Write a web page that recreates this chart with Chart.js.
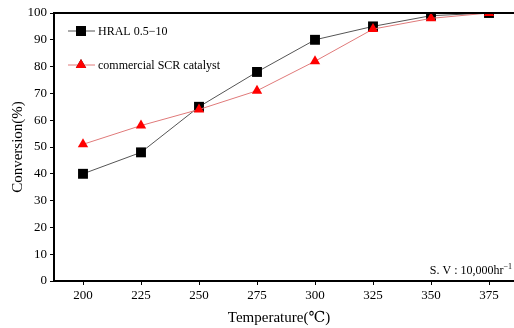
<!DOCTYPE html>
<html>
<head>
<meta charset="utf-8">
<script src="https://cdn.jsdelivr.net/npm/chart.js@4/dist/chart.umd.min.js"></script>
<style>
  html, body { margin: 0; padding: 0; overflow: hidden; background: #fff; }
  #wrap { width: 525px; height: 328px; }
</style>
</head>
<body>
<div id="wrap"><canvas id="convChart" width="525" height="328"></canvas></div>
<script>
// data
const temperatures = ['200', '225', '250', '275', '300', '325', '350', '375'];
const hralValues = [40, 48, 65, 78, 90, 95, 99, 100];
const commercialValues = [51, 58, 64, 71, 82, 94, 98, 100];
const yTicks = [0, 10, 20, 30, 40, 50, 60, 70, 80, 90, 100];

const SERIF = '"Liberation Serif", "DejaVu Serif", serif';

// legend, frame top line, axis titles and the S.V note
const extras = {
    id: 'extras',
    afterDraw(chart) {
        const ctx = chart.ctx;
        const area = chart.chartArea;
        ctx.save();

        // top frame line
        ctx.strokeStyle = '#000';
        ctx.lineWidth = 2;
        ctx.beginPath();
        ctx.moveTo(area.left, area.top);
        ctx.lineTo(area.right + 4, area.top);
        ctx.stroke();

        // legend
        const rows = [
            { label: 'HRAL 0.5\u221210', y: 31, line: '#555', ds: 1 },
            { label: 'commercial SCR catalyst', y: 65, line: '#e07a7a', ds: 0 }
        ];
        rows.forEach(r => {
            ctx.strokeStyle = r.line;
            ctx.lineWidth = 1;
            ctx.beginPath();
            ctx.moveTo(68, r.y);
            ctx.lineTo(95, r.y);
            ctx.stroke();
            const d = chart.data.datasets[r.ds];
            Chart.helpers.drawPoint(ctx, {
                pointStyle: d.pointStyle,
                radius: d.pointRadius,
                rotation: 0,
                borderWidth: 0
            }, 81, r.y);
            ctx.fillStyle = d.pointBackgroundColor;
            ctx.fill();
            ctx.fillStyle = '#000';
            ctx.font = '12px ' + SERIF;
            ctx.textAlign = 'left';
            ctx.textBaseline = 'middle';
            ctx.fillText(r.label, 98, r.y + 1);
        });

        // space velocity note
        ctx.fillStyle = '#000';
        ctx.textBaseline = 'alphabetic';
        ctx.textAlign = 'right';
        ctx.font = '8px ' + SERIF;
        ctx.fillText('\u22121', 512, 269);
        const supW = ctx.measureText('\u22121').width;
        ctx.font = '12px ' + SERIF;
        ctx.fillText('S. V : 10,000hr', 512 - supW, 274);

        // axis titles
        ctx.font = '15px ' + SERIF;
        ctx.textAlign = 'center';
        ctx.textBaseline = 'middle';
        ctx.fillText('Temperature(\u2103)', 279, 318);
        ctx.translate(18, (area.top + area.bottom) / 2);
        ctx.rotate(-Math.PI / 2);
        ctx.fillText('Conversion(%)', 0, 0);

        ctx.restore();
    }
};

const ctx = document.getElementById('convChart').getContext('2d');
new Chart(ctx, {
    type: 'line',
    data: {
        labels: temperatures,
        datasets: [{
            label: 'commercial SCR catalyst',
            data: commercialValues,
            borderColor: '#e07a7a',
            borderWidth: 1,
            pointStyle: 'triangle',
            pointRadius: 6,
            pointBorderWidth: 0,
            pointBackgroundColor: '#ff0000',
            pointBorderColor: '#ff0000',
            order: 0
        }, {
            label: 'HRAL 0.5-10',
            data: hralValues,
            borderColor: '#555',
            borderWidth: 1,
            pointStyle: 'rect',
            pointRadius: 7,
            pointBorderWidth: 0,
            pointBackgroundColor: '#000',
            pointBorderColor: '#000',
            order: 1
        }]
    },
    options: {
        responsive: false,
        animation: false,
        layout: { padding: { top: 13, right: 4, left: 0, bottom: 0 } },
        plugins: {
            legend: { display: false },
            tooltip: { enabled: false }
        },
        scales: {
            x: {
                offset: true,
                grid: {
                    offset: false,
                    drawOnChartArea: false,
                    tickLength: 4,
                    tickColor: '#000',
                    tickWidth: 1
                },
                border: { color: '#000', width: 2 },
                ticks: {
                    color: '#000',
                    font: { family: SERIF, size: 13 },
                    padding: 3,
                    maxRotation: 0
                },
                afterFit(scale) { scale.height = 47; }
            },
            y: {
                min: 0,
                max: 100,
                afterBuildTicks(scale) {
                    scale.ticks = yTicks.map(v => ({ value: v }));
                },
                grid: {
                    drawOnChartArea: false,
                    tickLength: 4,
                    tickColor: '#000',
                    tickWidth: 1
                },
                border: { color: '#000', width: 2 },
                ticks: {
                    color: '#000',
                    font: { family: SERIF, size: 13 },
                    padding: 3
                },
                afterFit(scale) { scale.width = 54; }
            }
        }
    },
    plugins: [extras]
});
</script>
</body>
</html>
